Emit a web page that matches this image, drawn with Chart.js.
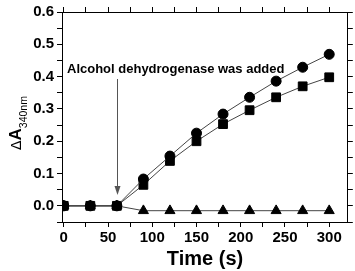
<!DOCTYPE html>
<html><head><meta charset="utf-8">
<script src="https://cdn.jsdelivr.net/npm/chart.js@4/dist/chart.umd.min.js"></script>
<style>html,body{margin:0;padding:0;background:#fff}#w{width:355px;height:271px}</style>
</head><body><div id="w"><canvas id="c" width="355" height="271"></canvas></div>
<script>
const times = [0,30,60,90,120,150,180,210,240,270,300];
const circles = [0,0,0,0.083,0.154,0.225,0.284,0.336,0.386,0.429,0.469];
const squares = [0,0,0,0.065,0.139,0.200,0.253,0.296,0.336,0.370,0.398];
const triangles = [0,0,0,-0.015,-0.015,-0.015,-0.015,-0.015,-0.015,-0.015,-0.015];
const xTicks = [0,25,50,75,100,125,150,175,200,225,250,275,300];
const yTicks = [-0.05,0.0,0.05,0.1,0.15,0.2,0.25,0.3,0.35,0.4,0.45,0.5,0.55,0.6];
const annotationText = "Alcohol dehydrogenase was added";
const arrowX = 60, arrowTop = 0.392, arrowTip = 0.035;

const mk = (vals, style, r) => ({
  data: times.map((t,i)=>({x:t,y:vals[i]})),
  borderColor:'#444', borderWidth:1, backgroundColor:'#000',
  pointBackgroundColor:'#000', pointBorderColor:'#000', pointBorderWidth:1,
  pointStyle:style, pointRadius:r, pointHoverRadius:r, tension:0,
  xAxisID:'x', yAxisID:'y'
});

const textPlugin = {
  id:'texts',
  afterDraw(chart){
    const ctx = chart.ctx, x = chart.scales.x, y = chart.scales.y;
    ctx.save();
    const ax = Math.round(x.getPixelForValue(arrowX));
    const y1 = Math.round(y.getPixelForValue(arrowTop)), y2 = Math.round(y.getPixelForValue(arrowTip));
    ctx.fillStyle='#555';
    ctx.fillRect(ax, y1, 1, y2-y1-4);
    ctx.beginPath(); ctx.moveTo(ax+0.5,y2); ctx.lineTo(ax-2.5,y2-9); ctx.lineTo(ax+3.5,y2-9); ctx.closePath(); ctx.fill();
    ctx.fillStyle = '#000';
    ctx.font = 'bold 13px "Liberation Sans", Arial, sans-serif';
    ctx.textBaseline = 'alphabetic'; ctx.textAlign='left';
    ctx.fillText(annotationText, 67, 73);
    ctx.font = 'bold 20px "Liberation Sans", Arial, sans-serif';
    ctx.textAlign='center';
    ctx.fillText('Time (s)', 205, 265);
    ctx.translate(21, 150); ctx.rotate(-Math.PI/2);
    ctx.textAlign='left';
    ctx.font = '14px "DejaVu Sans", sans-serif';
    let xx = 0;
    ctx.fillText('\u0394', xx, 0); xx += ctx.measureText('\u0394').width;
    ctx.font = 'bold 17px "Liberation Sans", Arial, sans-serif';
    ctx.fillText('A', xx, 0); xx += ctx.measureText('A').width;
    ctx.font = '10.5px "Liberation Sans", Arial, sans-serif';
    ctx.fillText('340nm', xx, 6);
    ctx.restore();
  }
};

const gridOpt = {display:true, drawOnChartArea:false, drawTicks:true, tickLength:5, color:'#000', lineWidth:1};
const borderOpt = {display:true, color:'#000', width:1};
const tickFont = {family:'"Liberation Sans", Arial', weight:'bold', size:15};

new Chart(document.getElementById('c'), {
  type:'line',
  data:{datasets:[mk(circles,'circle',5), mk(squares,'rect',6.2), mk(triangles,'triangle',5.8)]},
  options:{
    responsive:false, animation:false, devicePixelRatio:1,
    layout:{padding:{top:6,right:1,left:0,bottom:0}},
    plugins:{legend:{display:false}, tooltip:{enabled:false}},
    scales:{
      x:{type:'linear', position:'bottom', min:-2, max:321,
        afterBuildTicks(s){ s.ticks = xTicks.map(v=>({value:v})); },
        afterFit(s){ s.height = 49; },
        grid:gridOpt, border:borderOpt,
        ticks:{color:'#000', padding:2, maxRotation:0, autoSkip:false, font:tickFont, callback:v=>(v%50===0?String(v):'')}},
      x2:{type:'linear', position:'top', min:-2, max:321,
        afterBuildTicks(s){ s.ticks = xTicks.map(v=>({value:v})); },
        afterFit(s){ s.height = 5; },
        grid:gridOpt, border:borderOpt,
        ticks:{display:false}},
      y:{type:'linear', position:'left', min:-0.05, max:0.6,
        afterBuildTicks(s){ s.ticks = yTicks.map(v=>({value:v})); },
        afterFit(s){ s.width = 62; },
        grid:gridOpt, border:borderOpt,
        ticks:{color:'#000', padding:3, autoSkip:false, font:tickFont,
          callback:v=>{const n=Math.round(v*100); return (n>=0 && n%10===0)?(n/100).toFixed(1):'';}}},
      y2:{type:'linear', position:'right', min:-0.05, max:0.6,
        afterBuildTicks(s){ s.ticks = yTicks.map(v=>({value:v})); },
        afterFit(s){ s.width = 5; },
        grid:gridOpt, border:borderOpt,
        ticks:{display:false}}
    }
  },
  plugins:[textPlugin]
});
</script></body></html>
